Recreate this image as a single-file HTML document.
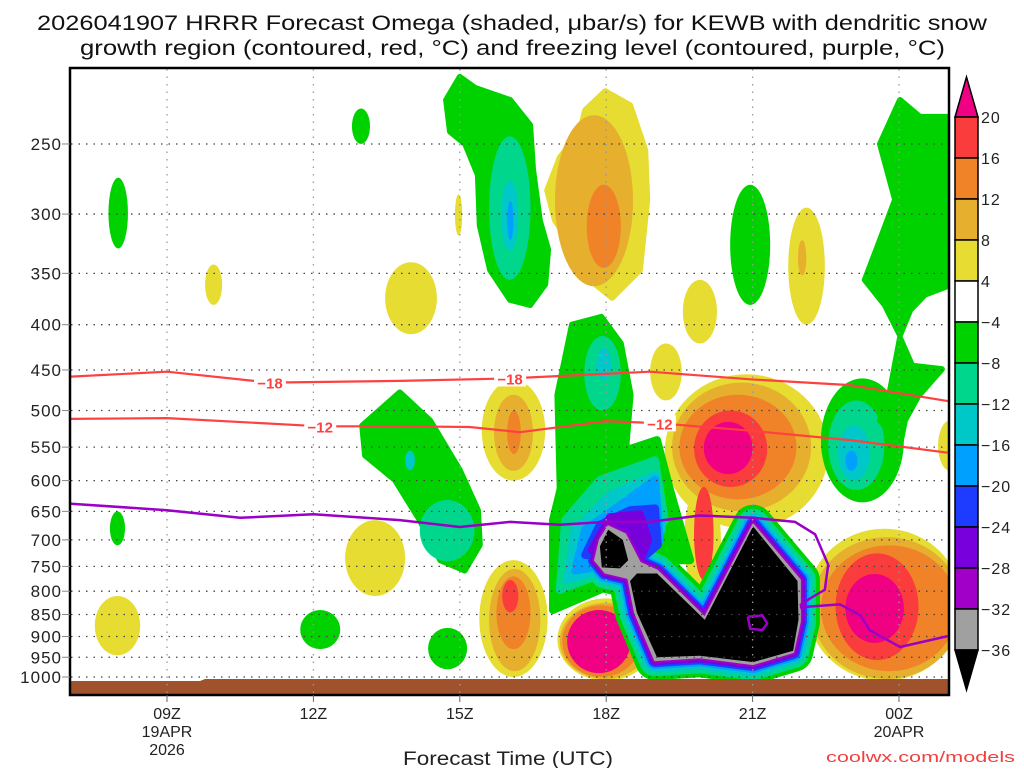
<!DOCTYPE html>
<html><head><meta charset="utf-8"><style>
html,body{margin:0;padding:0;background:#fff;}
svg text{font-family:"Liberation Sans",sans-serif;}
</style></head><body>
<svg id="chart" width="1024" height="768" viewBox="0 0 1024 768" xmlns="http://www.w3.org/2000/svg">
<rect width="1024" height="768" fill="#fff"/>
<text x="37" y="30" font-size="21" textLength="950" lengthAdjust="spacingAndGlyphs" fill="#111">2026041907 HRRR Forecast Omega (shaded, μbar/s) for KEWB with dendritic snow</text>
<text x="80" y="55" font-size="21" textLength="865" lengthAdjust="spacingAndGlyphs" fill="#111">growth region (contoured, red, °C) and freezing level (contoured, purple, °C)</text>
<defs><clipPath id="plotclip"><rect x="71" y="69" width="877" height="625"/></clipPath></defs>
<g id="shading" clip-path="url(#plotclip)"></g>
<g id="grid"></g>
<g id="lines" clip-path="url(#plotclip)"></g>
<g id="axes"></g>
<g id="cbar"></g>
<text x="403" y="765" font-size="19" textLength="210" lengthAdjust="spacingAndGlyphs" fill="#222">Forecast Time (UTC)</text>
<text x="826" y="762" font-size="15" textLength="189" lengthAdjust="spacingAndGlyphs" fill="#f04040">coolwx.com/models</text>
</svg>
<script>
// ---- data ----
const colors=['#e6dc32','#e6af2d','#f08228','#fa3c3c','#f00082','#00d200','#00d68c','#00c8c8','#00a0ff','#1e3cff','#7800dc','#a000c8','#a0a0a0','#000000'];
const cbarLevels=['20','16','12','8','4','−4','−8','−12','−16','−20','−24','−28','−32','−36'];
const cbarColors=[3,2,1,0,-1,5,6,7,8,9,10,11,12];
const pressureTicks=[250,300,350,400,450,500,550,600,650,700,750,800,850,900,950,1000];
const hourTicks=[0,3,6,9,12,15];
const hourLabels=[['09Z','19APR','2026'],['12Z'],['15Z'],['18Z'],['21Z'],['00Z','20APR']];
const blobs=[
['e',-1.2,-0.8,273,328,5],['e',-1.17,-0.86,650,710,5],['e',-1.48,-0.55,810,945,0],
['e',0.78,1.13,342,380,0],['e',3.79,4.16,228,250,5],['e',2.73,3.55,840,930,5],
['e',4.47,5.53,340,410,0],['e',3.65,4.88,665,810,0],['e',5.35,6.15,880,980,5],['e',5.9,6.05,285,317,0],
['p',5,[[6.0,210],[6.31,216],[7.03,223],[7.44,238],[7.5,267],[7.64,305],[7.81,329],[7.75,360],[7.44,380],[7.03,375],[6.62,347],[6.41,309],[6.37,271],[6.11,250],[5.8,242],[5.72,223]]],
['e',6.6,7.45,245,356,6],['e',6.85,7.2,275,330,7],['e',6.97,7.1,290,321,8],
['p',0,[[8.98,218],[9.49,226],[9.8,254],[9.84,289],[9.69,347],[9.12,373],[8.67,356],[8.36,329],[7.95,305],[7.79,282],[8.05,259],[8.46,242],[8.57,229]]],
['e',7.95,9.55,232,362,1],['e',8.6,9.3,278,345,2],
['e',6.45,7.75,462,600,0],['e',6.7,7.5,480,585,1],['e',6.97,7.25,500,560,2],
['p',5,[[4.0,520],[4.77,477],[5.39,513],[6.0,584],[6.37,648],[6.41,709],[6.1,758],[5.6,738],[5.18,665],[4.67,599],[4.06,562]]],
['e',5.18,6.3,631,740,6],['e',4.88,5.08,555,584,7],
['e',6.4,7.8,738,1000,0],['e',6.6,7.65,755,985,1],['e',6.75,7.45,770,930,2],['e',6.87,7.2,777,845,3],
['e',8.0,10.0,815,1010,0],['e',8.05,9.9,825,1005,1],['e',8.1,9.7,830,1000,2],['e',8.2,9.5,840,990,4],
['e',10.57,11.27,356,420,0],['e',9.9,10.55,420,487,0],['e',11.54,12.36,278,380,5],
['e',12.73,13.48,295,400,0],['e',12.93,13.1,321,352,1],
['e',10.2,13.55,455,680,0],['e',10.6,11.35,600,818,0],['e',10.35,13.2,465,650,1],['e',10.5,12.9,480,630,2],
['e',10.8,12.3,500,610,3],['e',10.8,11.2,610,777,3],['e',11.0,12.0,515,590,4],
['e',13.4,15.1,460,635,5],['e',13.55,14.7,487,615,6],['e',13.75,14.4,520,600,7],['e',13.9,14.15,555,585,8],
['p',5,[[15.02,223],[15.43,233],[16.1,233],[16.1,360],[15.53,370],[15.23,385],[15.02,411],[14.71,380],[14.3,356],[14.61,321],[14.92,289],[14.61,250]]],
['p',5,[[15.02,414],[15.27,445],[15.88,449],[15.39,482],[15.12,513],[15.02,547],[14.61,513],[14.82,474]]],
['e',13.1,16.3,680,1010,0],['e',13.2,16.3,695,1005,1],['e',13.4,16.2,710,985,2],['e',13.7,15.4,725,957,3],['e',13.9,15.1,765,915,4],
['e',15.8,16.3,513,585,0],
['p',5,[[8.3,400],[8.9,392],[9.3,420],[9.5,480],[9.4,560],[8.9,590],[8.05,620],[8.0,480]]],
['e',8.55,9.3,412,500,6],['e',8.8,9.1,425,462,7]
];
// negative complex: upper-left extension by level, main outline, black cores
const extLevels=[5,6,7,8,9,10];
const extPolys=[
[[7.91,840],[7.91,665],[8.16,584],[9.08,562],[10.04,540],[10.31,615],[10.72,738],[10.1,738],[8.87,797]],
[[8.05,797],[8.16,665],[8.87,599],[10.0,569],[10.2,665],[9.69,738]],
[[8.2,777],[8.36,682],[9.08,623],[10.0,591],[10.14,682],[9.69,738]],
[[8.36,758],[8.57,682],[9.28,640],[10.0,599],[10.1,700],[9.69,738]],
[[8.57,728],[8.87,673],[9.49,648],[10.0,645],[10.06,709],[9.69,738]],
[[8.71,719],[9.08,660],[9.69,655],[9.86,700],[9.69,738]]
];
const ringLevels=[5,6,7,8,9,10,11];
const ringHalfWidth=[20,16,12,9,7,5,3];
const complexOutline=[[8.87,700],[9.04,676],[9.39,690],[9.69,743],[10.04,758],[11.02,857],[12.01,673],[12.97,777],[12.97,866],[12.83,937],[12.01,967],[10.92,950],[10.0,957],[9.59,846],[9.45,773],[8.98,762],[8.77,738]];
const coreMain=[[9.63,764],[10.04,764],[11.02,862],[12.01,676],[12.92,779],[12.94,862],[12.83,934],[12.01,962],[10.92,946],[10.04,950],[9.63,846],[9.49,779]];
const coreLeft=[[8.87,712],[9.04,682],[9.34,700],[9.45,738],[9.28,754],[8.91,752]];
// contour lines
const freezeHours=[-2,0,1.5,3,4.77,6,7.03,8.05,9,9.9,10.92,12,12.87,13.28,13.55,13.48,13.18,12.97];
const freezeP=[637,648,661,655,665,677,668,673,668,668,657,661,668,690,747,797,815,830];
const freeze2Hours=[12.97,13.79,14.2,14.4,15.02,16.0];
const freeze2P=[834,828,851,885,925,899];
const loopHours=[11.9,12.2,12.3,12.2,11.95];
const loopP=[855,852,870,885,882];
const m18Hours=[-2,0,2.11,4.77,7.03,9.9,11.95,14,16];
const m18P=[458,452,465,463,460,452,461,468,488];
const m12Hours=[-2,0,3.14,4.77,6.2,7.23,9,10.1,11.95,14,16];
const m12P=[511,510,521,521,522,529,514,517,527,540,558];
const labels=[['−18',2.11,465],['−18',7.03,460],['−12',3.14,521],['−12',10.1,517]];
// ---- scales ----
const X=h=>167+48.8*h;
const Y=p=>677-384.5*Math.log(1000/p);
const NS='http://www.w3.org/2000/svg';
function mk(tag,parent,attrs){const e=document.createElementNS(NS,tag);for(const k in attrs)e.setAttribute(k,attrs[k]);parent.appendChild(e);return e;}
const pts=a=>a.map(q=>X(q[0]).toFixed(1)+','+Y(q[1]).toFixed(1)).join(' ');
const sh=document.getElementById('shading');
blobs.forEach(b=>{
 let e;
 if(b[0]==='e'){
  const x1=X(b[1]),x2=X(b[2]),y1=Y(b[3]),y2=Y(b[4]);
  e=mk('ellipse',sh,{cx:(x1+x2)/2,cy:(y1+y2)/2,rx:(x2-x1)/2,ry:(y2-y1)/2,fill:colors[b[5]]});
 } else {
  e=mk('polygon',sh,{points:pts(b[2]),fill:colors[b[1]],'stroke':colors[b[1]],'stroke-width':6,'stroke-linejoin':'round'});
 }
 
 
});
ringLevels.forEach((lv,i)=>{
 if(i<extPolys.length){const u=mk('polygon',sh,{points:pts(extPolys[i]),fill:colors[extLevels[i]],stroke:colors[extLevels[i]],'stroke-width':8,'stroke-linejoin':'round'});
 
 }
 const r=mk('polygon',sh,{points:pts(complexOutline),fill:colors[lv],stroke:colors[lv],'stroke-width':ringHalfWidth[i]*2,'stroke-linejoin':'round'});
 
 
});
const g=mk('polygon',sh,{points:pts(complexOutline),fill:colors[12],stroke:colors[12],'stroke-width':2,'stroke-linejoin':'round'});


[coreMain,coreLeft].forEach(c=>{const k=mk('polygon',sh,{points:pts(c),fill:'#000'});
 
 });
// ground
const gr=mk('polygon',sh,{points:'71,681 200,681 205,679 948,679 948,694 71,694',fill:'#a0522d'});


// grid
const grid=document.getElementById('grid');
pressureTicks.forEach(p=>{const l=mk('line',grid,{x1:71,x2:948,y1:Y(p),y2:Y(p),stroke:'#444','stroke-width':1.3,'stroke-dasharray':'1.5 6'});
 
 });
hourTicks.forEach(h=>{const l=mk('line',grid,{x1:X(h),x2:X(h),y1:69,y2:694,stroke:'#999','stroke-width':1.3,'stroke-dasharray':'1.5 6'});
 
 });
// lines
const ln=document.getElementById('lines');
function line(hs,ps,col,name,w){const e=mk('polyline',ln,{points:hs.map((h,i)=>X(h).toFixed(1)+','+Y(ps[i]).toFixed(1)).join(' '),fill:'none',stroke:col,'stroke-width':w,'stroke-linejoin':'round'});
 
 }
line(m18Hours,m18P,'#ff4040','isotherm-minus-18',2.2);
line(m12Hours,m12P,'#ff4040','isotherm-minus-12',2.2);
line(freezeHours,freezeP,'#9a00c8','freezing-level',2.5);
line(freeze2Hours,freeze2P,'#9a00c8','freezing-level-east',2.5);
line(loopHours.concat([loopHours[0]]),loopP.concat([loopP[0]]),'#9a00c8','freezing-level-loop',2.5);
labels.forEach(l=>{const x=X(l[1]),y=Y(l[2]);
 const r=mk('rect',ln,{x:x-16,y:y-8,width:32,height:16,fill:'#fff'});
 
 
 const t=mk('text',ln,{x:x,y:y+6,'font-size':15,'font-weight':'bold','text-anchor':'middle',fill:'#ff4040'});t.textContent=l[0];
 
 });
const zl=mk('text',ln,{x:X(12.97)+3,y:Y(830)+5,'font-size':12,'text-anchor':'middle',fill:'#9a00c8'});zl.textContent='0';


// axes
const ax=document.getElementById('axes');
const fr=mk('rect',ax,{x:70,y:68,width:879,height:627,fill:'none',stroke:'#000','stroke-width':2.5});


pressureTicks.forEach(p=>{const t=mk('text',ax,{x:62,y:Y(p)+6,'font-size':17,'text-anchor':'end',fill:'#222','letter-spacing':'1'});t.textContent=p;
 
 
 const k=mk('line',ax,{x1:62,x2:70,y1:Y(p),y2:Y(p),stroke:'#888','stroke-width':1});
 
 });
hourTicks.forEach((h,i)=>{const k=mk('line',ax,{x1:X(h),x2:X(h),y1:695,y2:702,stroke:'#666','stroke-width':1});
 
 
 hourLabels[i].forEach((s,j)=>{const t=mk('text',ax,{x:X(h),y:719+j*18,'font-size':16,'text-anchor':'middle',fill:'#222'});t.textContent=s;
 
 });});
// colorbar
const cb=document.getElementById('cbar');
const cbTop=117,cbStep=41,cbX=955,cbW=23;
const tu=mk('polygon',cb,{points:`${cbX},${cbTop} ${cbX+cbW},${cbTop} ${cbX+cbW/2},77`,fill:colors[4],stroke:'#000','stroke-width':1.5});


cbarColors.forEach((c,i)=>{const r=mk('rect',cb,{x:cbX,y:cbTop+i*cbStep,width:cbW,height:cbStep,fill:c<0?'#fff':colors[c],stroke:'#000','stroke-width':1.5});
 
 });
const cbBot=cbTop+cbarColors.length*cbStep;
const td=mk('polygon',cb,{points:`${cbX},${cbBot} ${cbX+cbW},${cbBot} ${cbX+cbW/2},${cbBot+40}`,fill:'#000',stroke:'#000','stroke-width':1.5});


cbarLevels.forEach((s,i)=>{const t=mk('text',cb,{x:981,y:cbTop+i*cbStep+6,'font-size':16,fill:'#222','letter-spacing':'1'});t.textContent=s;
 
 });
</script>
</body></html>
